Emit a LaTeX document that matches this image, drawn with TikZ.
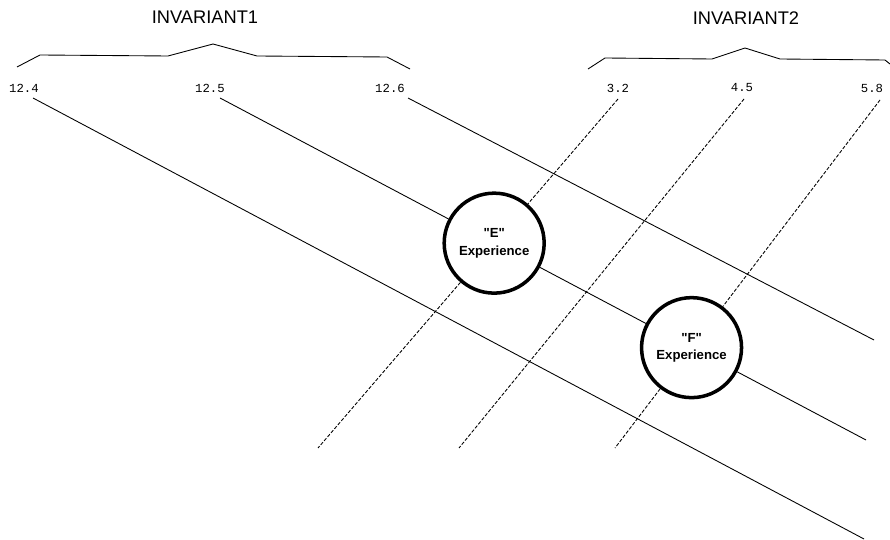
\documentclass[tikz,border=0pt]{standalone}
\usepackage{fontspec}
\setmainfont{Liberation Sans}
\newfontfamily\valfont{Liberation Mono}
\usetikzlibrary{positioning}

\begin{document}
\begin{tikzpicture}[x=0.02cm, y=-0.02cm,
      title/.style={font=\fontsize{10.4}{12}\selectfont},
      val/.style={font=\valfont\fontsize{7}{8}\selectfont, inner sep=1pt},
      exp/.style={draw, circle, line width=2pt, fill=white,
                  minimum size=2cm, inner sep=0pt, align=center,
                  font=\bfseries\fontsize{7.5}{10}\selectfont},
      sol/.style={line width=0.5pt},
      dsh/.style={line width=0.5pt, dash pattern=on 2pt off 1pt},
      brace/.style={line width=0.5pt, line join=round}
    ]
    \useasboundingbox (0,0) rectangle (890,540);

    \node[title] (inv1) at (205,17) {INVARIANT1};
    \node[title] (inv2) at (746,18) {INVARIANT2};

    \draw[brace] (17,67) -- (40,55) -- (168,56) -- (213,44) -- (257,56) -- (387,57) -- (410,69);
    \draw[brace] (588,69) -- (605,58) -- (712,59) -- (745,48) -- (780,59) -- (885,60) -- (890,64);

    \node[val] (v124) at (24,88)  {12.4};
    \node[val] (v125) at (210,88) {12.5};
    \node[val] (v126) at (390,88) {12.6};
    \node[val] (v32)  at (618,88) {3.2};
    \node[val] (v45)  at (742,88) {4.5};
    \node[val] (v58)  at (872,88) {5.8};

    \coordinate (s124) at (33,98);
    \coordinate (s125) at (220,98);
    \coordinate (s126) at (408,98);
    \coordinate (s32)  at (618,99);
    \coordinate (s45)  at (744,99);
    \coordinate (s58)  at (880,100);
    \coordinate (e124) at (864,539);
    \coordinate (e125) at (866,440);
    \coordinate (e126) at (874,340);
    \coordinate (e32)  at (318,448);
    \coordinate (e45)  at (459,448);
    \coordinate (e58)  at (615,448);

    \node[exp] (expE) at (intersection of s125--e125 and s32--e32) {\textquotedbl E\textquotedbl\\Experience};
    \node[exp] (expF) at (intersection of s125--e125 and s58--e58) {\textquotedbl F\textquotedbl\\Experience};

    \draw[sol] (s124) -- (e124);
    \draw[sol] (s125) -- (expE) -- (expF) -- (e125);
    \draw[sol] (s126) -- (e126);
    \draw[dsh] (s32) -- (expE) -- (e32);
    \draw[dsh] (s45) -- (e45);
    \draw[dsh] (s58) -- (expF) -- (e58);
  \end{tikzpicture}
\end{document}
